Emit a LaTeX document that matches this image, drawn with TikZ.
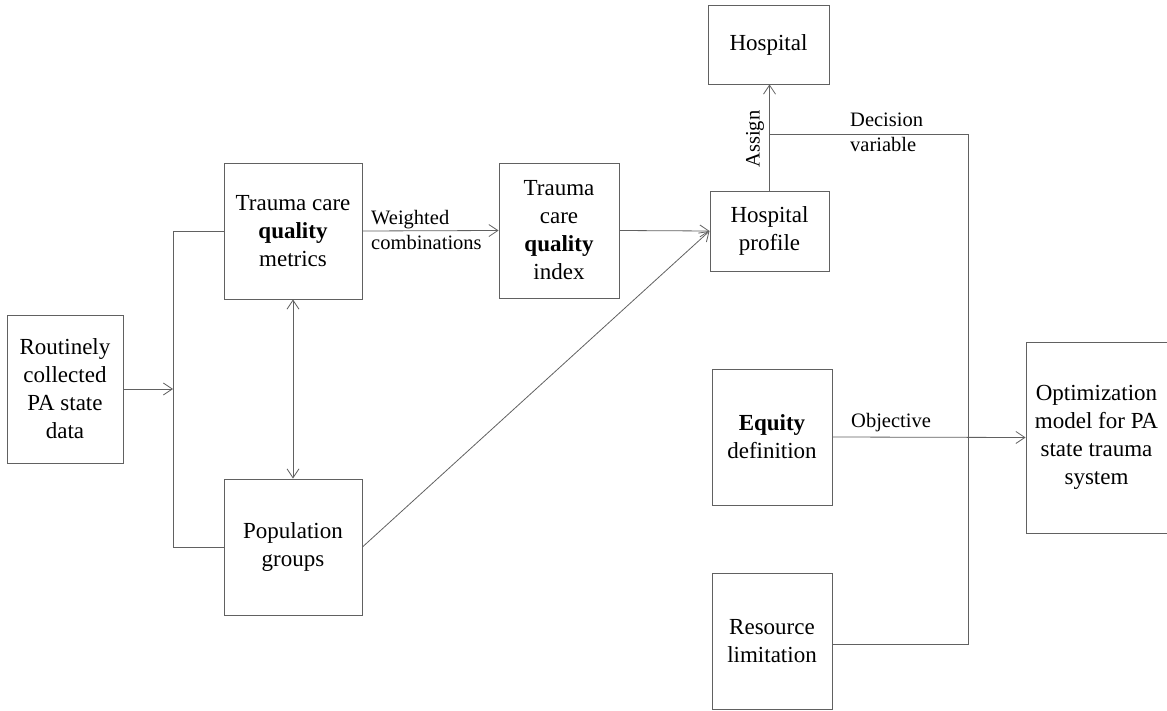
\documentclass[tikz,border=0pt]{standalone}
\usepackage{fontspec}
\setmainfont{Liberation Serif}
\usetikzlibrary{arrows.meta}
\definecolor{linegray}{gray}{0.38}
\begin{document}
\begin{tikzpicture}[x=1pt,y=-1pt,
  box/.style={draw=linegray, line width=0.9pt, inner sep=0pt, align=center,
    font=\fontsize{23}{28}\selectfont},
  lbl/.style={inner sep=0pt, align=left, font=\fontsize{20.5}{25}\selectfont},
  conn/.style={draw=linegray, line width=0.8pt},
  arr/.style={conn, -{Straight Barb[length=9pt,width=12pt,line width=0.8pt]}},
  darr/.style={conn, {Straight Barb[length=9pt,width=12pt,line width=0.8pt]}-{Straight Barb[length=9pt,width=12pt,line width=0.8pt]}}
]
\useasboundingbox (0,0) rectangle (1167,711);

% boxes
\node[box, minimum width=116pt, minimum height=148pt] (data) at (65,389)
  {Routinely\\collected\\PA state\\data};
\node[box, minimum width=138pt, minimum height=136pt] (metrics) at (293,231)
  {Trauma care\\\textbf{quality}\\metrics};
\node[box, minimum width=138pt, minimum height=136pt] (pop) at (293,547)
  {Population\\groups};
\node[box, minimum width=120pt, minimum height=135pt] (index) at (559,230.5)
  {Trauma\\care\\\textbf{quality}\\index};
\node[box, minimum width=119pt, minimum height=80pt] (profile) at (769.5,231)
  {Hospital\\profile};
\node[box, minimum width=121pt, minimum height=79pt] (hosp) at (768.5,44.5)
  {Hospital};
\node[box, minimum width=120pt, minimum height=136pt] (equity) at (772,437)
  {\textbf{Equity}\\definition};
\node[box, minimum width=120pt, minimum height=136pt] (resource) at (772,641)
  {Resource\\limitation};
\node[box, minimum width=141pt, minimum height=191pt] (optim) at (1096.5,437.5)
  {Optimization\\model for PA\\state trauma\\system};

% left bracket
\coordinate (bt) at (173,231);
\coordinate (bb) at (173,547);
\draw[conn] (metrics.west) -- (bt) -- (bb) -- (pop.west);
\draw[arr] (data.east) -- (data.east -| bt);

% metrics <-> population
\draw[darr] (metrics.south) -- (pop.north);

% weighted combinations
\draw[arr] (metrics.east) -- (index.west);
\node[lbl, anchor=west] (wlbl) at (371,229.5) {Weighted\\combinations};

% to hospital profile
\draw[arr] (index.east) -- (profile.west);
\draw[arr] (pop.east) -- (profile.west);

% assign
\draw[arr] (profile.north) -- (profile.north |- hosp.south);
\node[lbl, rotate=90] (assignlbl) at (755,139) {Assign};

% decision variable
\coordinate (dv) at (769.5,134);
\coordinate (dvr) at (968,134);
\coordinate (dvb) at (968,644);
\draw[conn] (dv) -- (dvr) -- (dvb) -- (dvb -| resource.east);
\node[lbl, anchor=west] (dvlbl) at (850,132) {Decision\\variable};

% objective
\draw[arr] (equity.east) -- (optim.west);
\node[lbl, anchor=west] (objlbl) at (851,423) {Objective};
\end{tikzpicture}
\end{document}
